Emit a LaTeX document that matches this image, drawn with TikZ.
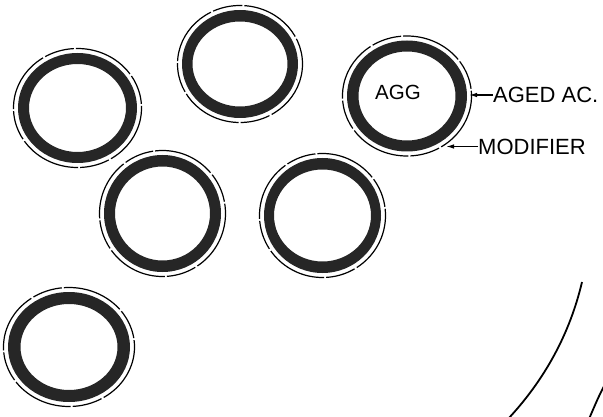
\documentclass[tikz,border=0pt]{standalone}
\usepackage{fontspec}
\setmainfont{Liberation Sans}
\usetikzlibrary{arrows.meta}
\begin{document}
\begin{tikzpicture}[x=1pt,y=-1pt,
  ringfill/.style={fill=black!85,even odd rule},
  skin/.style={draw=black,line width=1.2pt,dash pattern=on 62pt off 2.5pt on 30pt off 2pt},
  lbl/.style={font=\fontsize{22}{24}\selectfont,inner sep=0pt},
  pointer/.style={draw=black,line width=1.3pt,-{Latex[length=8pt,width=4.5pt]}},
  edge/.style={draw=black,line width=1.8pt}]
\useasboundingbox (0,0) rectangle (603,417);
% aggregate particles: dark coating ring plus thin outer skin
\foreach \n/\cx/\cy/\ax/\ay/\bx/\by in {
    1/77.5/108/59.5/55/48.5/44,
    2/240/64/58/54/47.5/42.5,
    3/407/96/60/55.5/48.5/44.5,
    4/162.5/213.5/58.5/58.5/47.5/47,
    5/322.5/215.5/58.5/57.5/48.5/46,
    6/69/347/61/55/48.5/43}{
  \coordinate (ring\n) at (\cx,\cy);
  \path[ringfill] (ring\n) ellipse[x radius=\ax, y radius=\ay]
                  (ring\n) ellipse[x radius=\bx, y radius=\by];
  \path[skin] (ring\n) ellipse[x radius=\ax+4.5, y radius=\ay+4.5];
}
% labels
\node[font=\fontsize{20.5}{22}\selectfont,inner sep=0pt] (agg) at (398,92.5) {AGG};
\node[lbl,anchor=west] (aged) at (493,95) {AGED AC.};
\node[lbl,anchor=west] (modifier) at (478,146.5) {MODIFIER};
\coordinate (agedtip) at (469,95);
\coordinate (modtip) at (446,146.5);
\draw[pointer] (aged.west) -- (agedtip);
\draw[pointer] (modifier.west) -- (modtip);
% large particle edges at lower right
\draw[edge] (582,282) .. controls (570.1,332.6) and (545.4,379) .. (508,419);
\draw[edge] (606,382) .. controls (598,398) .. (589,419);
\end{tikzpicture}
\end{document}
